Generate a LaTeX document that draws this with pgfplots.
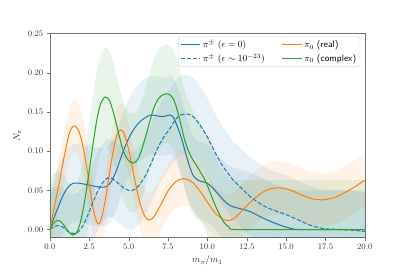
\documentclass[border=0pt]{standalone}
\usepackage{pgfplots}
\pgfplotsset{compat=1.18}
\usepgfplotslibrary{fillbetween}
\definecolor{cA}{HTML}{1F77B4}
\definecolor{cB}{HTML}{FF7F0E}
\definecolor{cC}{HTML}{2CA02C}

% columns: x, mean, lower and upper edge of the band
\pgfplotstableread{
x y lo hi
0 0.000 -0.050 0.050
0.3 0.017 -0.033 0.067
0.6 0.032 -0.018 0.082
0.9 0.046 -0.004 0.096
1.2 0.055 0.005 0.105
1.5 0.059 0.009 0.109
1.9 0.059 0.009 0.109
2.4 0.057 0.007 0.107
2.9 0.055 0.005 0.105
3.3 0.054 0.004 0.104
3.6 0.055 0.005 0.105
3.9 0.061 0.011 0.111
4.2 0.074 0.024 0.124
4.5 0.091 0.041 0.141
4.8 0.107 0.057 0.157
5.1 0.120 0.070 0.170
5.4 0.130 0.080 0.180
5.7 0.137 0.087 0.187
6.0 0.142 0.092 0.192
6.4 0.146 0.096 0.196
6.8 0.145 0.095 0.195
7.2 0.144 0.094 0.194
7.6 0.146 0.096 0.196
7.85 0.143 0.093 0.193
8.1 0.131 0.081 0.181
8.35 0.117 0.067 0.167
8.6 0.099 0.049 0.149
8.85 0.082 0.032 0.132
9.1 0.069 0.019 0.119
9.4 0.063 0.013 0.113
9.7 0.061 0.011 0.111
10.0 0.059 0.009 0.109
10.3 0.054 0.004 0.104
10.7 0.045 -0.005 0.095
11.1 0.036 -0.014 0.086
11.5 0.030 -0.020 0.080
12.0 0.027 -0.023 0.077
12.7 0.023 -0.027 0.073
13.5 0.015 -0.035 0.065
14.3 0.008 -0.042 0.058
15.2 0.002 -0.048 0.052
16.0 0.000 -0.050 0.050
20 0.000 -0.050 0.050
}\pipm

\pgfplotstableread{
x y lo hi
0 0.000 -0.050 0.050
0.3 0.004 -0.046 0.054
0.6 0.005 -0.045 0.055
0.9 0.002 -0.048 0.052
1.2 -0.003 -0.053 0.047
1.5 -0.005 -0.055 0.045
1.8 -0.003 -0.053 0.047
2.1 0.005 -0.045 0.055
2.4 0.018 -0.032 0.068
2.7 0.033 -0.017 0.083
3.0 0.047 -0.003 0.097
3.3 0.058 0.008 0.108
3.6 0.065 0.015 0.115
3.85 0.066 0.016 0.116
4.1 0.063 0.013 0.113
4.4 0.058 0.008 0.108
4.7 0.053 0.003 0.103
5.0 0.050 0.000 0.100
5.2 0.0495 -0.0005 0.0995
5.5 0.053 0.003 0.103
5.8 0.060 0.010 0.110
6.1 0.070 0.020 0.120
6.4 0.083 0.033 0.133
6.7 0.097 0.047 0.147
7.0 0.110 0.060 0.160
7.3 0.120 0.070 0.170
7.6 0.128 0.078 0.178
7.9 0.138 0.088 0.188
8.2 0.145 0.095 0.195
8.5 0.147 0.097 0.197
8.8 0.147 0.097 0.197
9.1 0.144 0.094 0.194
9.4 0.137 0.087 0.187
9.7 0.128 0.078 0.178
10.0 0.118 0.068 0.168
10.3 0.106 0.056 0.156
10.6 0.094 0.044 0.144
10.97 0.081 0.031 0.131
11.3 0.072 0.022 0.122
11.6 0.064 0.014 0.114
12.0 0.056 0.006 0.106
12.66 0.043 -0.007 0.093
13.2 0.035 -0.015 0.085
13.7 0.029 -0.021 0.079
14.3 0.024 -0.026 0.074
15.0 0.019 -0.031 0.069
15.8 0.012 -0.038 0.062
16.6 0.005 -0.045 0.055
17.5 0.001 -0.049 0.051
18.5 0.000 -0.050 0.050
19.3 -0.001 -0.051 0.049
20 -0.0025 -0.0525 0.0475
}\pipmeps

\pgfplotstableread{
x y lo hi
0 0.000 -0.034 0.034
0.3 0.030 -0.004 0.064
0.6 0.060 0.026 0.094
0.9 0.092 0.058 0.126
1.2 0.120 0.086 0.154
1.4 0.130 0.096 0.164
1.6 0.132 0.098 0.166
1.8 0.127 0.093 0.161
2.0 0.115 0.081 0.149
2.2 0.096 0.062 0.130
2.4 0.072 0.038 0.106
2.6 0.045 0.011 0.079
2.8 0.022 -0.012 0.056
3.0 0.009 -0.025 0.043
3.15 0.008 -0.026 0.042
3.3 0.016 -0.018 0.050
3.5 0.035 0.001 0.069
3.7 0.060 0.026 0.094
3.9 0.086 0.052 0.120
4.1 0.108 0.074 0.142
4.3 0.122 0.088 0.156
4.5 0.127 0.093 0.161
4.7 0.123 0.089 0.157
4.9 0.110 0.076 0.144
5.1 0.093 0.059 0.127
5.3 0.073 0.039 0.107
5.5 0.053 0.019 0.087
5.75 0.032 -0.002 0.066
6.0 0.018 -0.016 0.052
6.27 0.012 -0.022 0.046
6.6 0.016 -0.018 0.050
7.0 0.030 -0.004 0.064
7.5 0.049 0.015 0.083
8.0 0.061 0.027 0.095
8.5 0.065 0.031 0.099
9.0 0.061 0.027 0.095
9.5 0.050 0.016 0.084
10.0 0.035 0.001 0.069
10.5 0.021 -0.013 0.055
11.0 0.013 -0.021 0.047
11.3 0.0115 -0.0225 0.0455
11.7 0.014 -0.020 0.048
12.2 0.024 -0.010 0.058
12.8 0.036 0.002 0.070
13.4 0.046 0.012 0.080
14.0 0.052 0.018 0.086
14.66 0.053 0.019 0.087
15.3 0.050 0.016 0.084
16.0 0.044 0.010 0.078
16.7 0.039 0.005 0.073
17.4 0.038 0.004 0.072
18.1 0.041 0.007 0.075
18.8 0.048 0.014 0.082
19.4 0.055 0.021 0.089
20 0.063 0.029 0.097
}\pireal

\pgfplotstableread{
x y lo hi
0 0.000 -0.063 0.063
0.2 0.007 -0.056 0.070
0.45 0.0115 -0.0515 0.0745
0.7 0.010 -0.053 0.073
0.95 0.004 -0.059 0.067
1.2 -0.003 -0.066 0.060
1.45 -0.007 -0.070 0.056
1.7 -0.004 -0.067 0.059
1.95 0.010 -0.053 0.073
2.2 0.035 -0.028 0.098
2.45 0.068 0.005 0.131
2.7 0.103 0.040 0.166
2.95 0.136 0.073 0.199
3.2 0.159 0.096 0.222
3.5 0.169 0.106 0.232
3.8 0.164 0.101 0.227
4.05 0.148 0.085 0.211
4.3 0.128 0.065 0.191
4.55 0.108 0.045 0.171
4.8 0.094 0.031 0.157
5.05 0.087 0.024 0.150
5.32 0.085 0.022 0.148
5.6 0.090 0.027 0.153
5.85 0.103 0.040 0.166
6.1 0.120 0.057 0.183
6.35 0.138 0.075 0.201
6.6 0.155 0.092 0.218
6.9 0.167 0.104 0.230
7.2 0.172 0.109 0.235
7.5 0.173 0.110 0.236
7.8 0.168 0.105 0.231
8.05 0.155 0.092 0.218
8.3 0.136 0.073 0.199
8.55 0.115 0.052 0.178
8.8 0.100 0.037 0.163
9.05 0.090 0.027 0.153
9.3 0.082 0.019 0.145
9.6 0.072 0.009 0.135
9.9 0.061 -0.002 0.124
10.2 0.046 -0.017 0.109
10.5 0.031 -0.032 0.094
10.8 0.018 -0.045 0.081
11.1 0.008 -0.055 0.071
11.4 0.003 -0.060 0.066
11.8 0.000 -0.063 0.063
16 0.000 -0.063 0.063
20 0.000 -0.063 0.063
}\picplx

\begin{document}
\begin{tikzpicture}
\begin{axis}[at={(0pt,0pt)},anchor=south west,scale only axis,
 width=335.6pt,height=217.2pt,
 xmin=0,xmax=20,ymin=-0.01,ymax=0.25,
 xtick={0,2.5,...,20},ytick={0,0.05,...,0.25},
 xticklabel style={/pgf/number format/.cd,fixed,fixed zerofill,precision=1},
 yticklabel style={/pgf/number format/.cd,fixed,fixed zerofill,precision=2},
 tick label style={font=\small,text=black!80},
 axis line style={black!55},
 tick style={black!55},
 tick align=outside,tick pos=left,major tick length=3.5pt,
 xlabel={$m_\pi/m_1$},ylabel={$N_\pi$},
 label style={text=black!85},
 legend columns=2,
 legend cell align=left,
 legend style={at={(0.985,0.985)},anchor=north east,font=\normalsize,
   draw=black!20,rounded corners=2pt,fill=white,fill opacity=0.8,text opacity=1,
   inner sep=2pt,row sep=1pt,
   /tikz/every even column/.append style={column sep=16pt}},
 legend image code/.code={\draw[#1,opacity=1] (0pt,0pt) -- (21pt,0pt);},
]
% bands
\addplot[draw=none,smooth,name path=aH,forget plot] table[x=x,y=hi]{\pipm};
\addplot[draw=none,smooth,name path=aL,forget plot] table[x=x,y=lo]{\pipm};
\addplot[fill=cA,fill opacity=0.1,draw=none,forget plot] fill between[of=aH and aL];
\addplot[draw=none,smooth,name path=bH,forget plot] table[x=x,y=hi]{\pipmeps};
\addplot[draw=none,smooth,name path=bL,forget plot] table[x=x,y=lo]{\pipmeps};
\addplot[fill=cA,fill opacity=0.1,draw=none,forget plot] fill between[of=bH and bL];
\addplot[draw=none,smooth,name path=cH,forget plot] table[x=x,y=hi]{\pireal};
\addplot[draw=none,smooth,name path=cL,forget plot] table[x=x,y=lo]{\pireal};
\addplot[fill=cB,fill opacity=0.1,draw=none,forget plot] fill between[of=cH and cL];
\addplot[draw=none,smooth,name path=dH,forget plot] table[x=x,y=hi]{\picplx};
\addplot[draw=none,smooth,name path=dL,forget plot] table[x=x,y=lo]{\picplx};
\addplot[fill=cC,fill opacity=0.1,draw=none,forget plot] fill between[of=dH and dL];
% curves
\addplot[cA,line width=1.1pt,smooth] table[x=x,y=y]{\pipm};
\addlegendentry{$\pi^\pm$ ($\epsilon=0$)}
\addplot[cB,line width=1.1pt,smooth] table[x=x,y=y]{\pireal};
\addlegendentry{$\pi_0$ \textsf{(real)}}
\addplot[cA,line width=1.1pt,smooth,dash pattern=on 4.5pt off 2pt] table[x=x,y=y]{\pipmeps};
\addlegendentry{$\pi^\pm$ ($\epsilon\sim10^{-23}$)}
\addplot[cC,line width=1.1pt,smooth] table[x=x,y=y]{\picplx};
\addlegendentry{$\pi_0$ \textsf{(complex)}}
\end{axis}
\path (-53.1pt,-36.1pt) rectangle (380.5pt,252.9pt);
\end{tikzpicture}
\end{document}
